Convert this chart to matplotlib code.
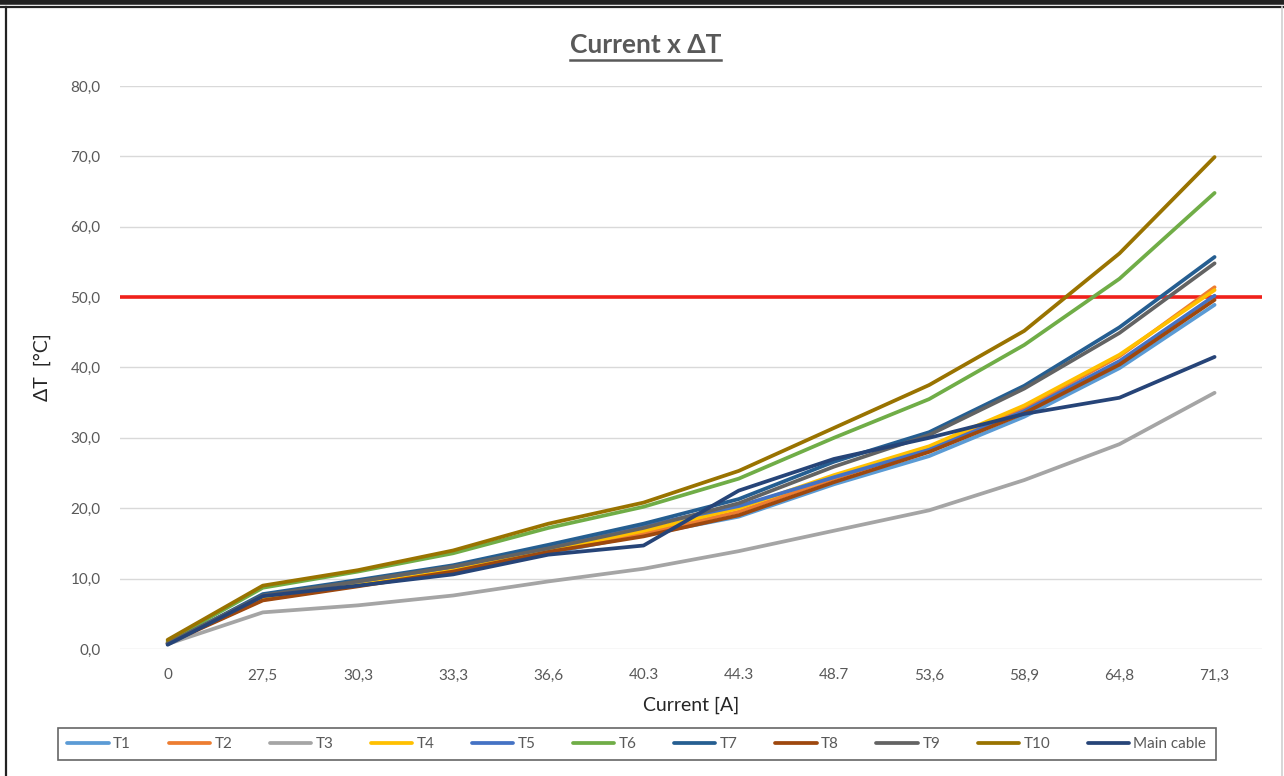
import matplotlib
matplotlib.use("Agg")
import matplotlib.pyplot as plt
from matplotlib.lines import Line2D

plt.rcParams['font.family'] = ['Lato', 'DejaVu Sans']

# current steps (category axis)
currents = ["0", "27,5", "30,3", "33,3", "36,6", "40.3", "44.3", "48.7", "53,6", "58,9", "64,8", "71,3"]

# temperature rise per sensor [°C]
t1 = [0.8, 7.2, 9.2, 10.8, 13.6, 16.2, 18.8, 23.4, 27.4, 33.0, 39.9, 48.9]
t2 = [0.9, 7.0, 9.0, 11.0, 14.0, 16.4, 19.5, 24.2, 28.6, 34.2, 41.6, 51.4]
t3 = [0.7, 5.2, 6.2, 7.6, 9.6, 11.4, 13.9, 16.8, 19.7, 24.0, 29.1, 36.4]
t4 = [0.9, 7.3, 9.4, 11.3, 14.0, 16.8, 20.0, 24.7, 28.8, 34.6, 41.8, 51.0]
t5 = [0.8, 7.6, 9.6, 11.7, 14.6, 17.5, 20.3, 24.4, 28.3, 33.8, 40.9, 50.2]
t6 = [1.1, 8.7, 11.0, 13.6, 17.2, 20.2, 24.2, 30.0, 35.5, 43.2, 52.6, 64.8]
t7 = [0.7, 7.8, 9.8, 11.9, 14.8, 17.8, 21.3, 26.6, 30.8, 37.4, 45.7, 55.7]
t8 = [0.8, 6.9, 8.9, 11.0, 13.8, 16.0, 19.0, 23.7, 28.0, 33.5, 40.4, 49.6]
t9 = [0.8, 7.6, 9.6, 11.7, 14.3, 17.2, 20.7, 25.9, 30.4, 37.0, 44.9, 54.8]
t10 = [1.3, 9.0, 11.2, 14.0, 17.8, 20.8, 25.3, 31.4, 37.5, 45.2, 56.2, 69.9]
main_cable = [0.6, 7.5, 9.0, 10.6, 13.4, 14.7, 22.5, 27.0, 30.0, 33.4, 35.7, 41.5]

limit = 50.0

series = [("T1", t1, "#5B9BD5"), ("T2", t2, "#ED7D31"), ("T3", t3, "#A5A5A5"),
          ("T4", t4, "#FFC000"), ("T5", t5, "#4472C4"), ("T6", t6, "#70AD47"),
          ("T7", t7, "#255E91"), ("T8", t8, "#9E480E"), ("T9", t9, "#636363"),
          ("T10", t10, "#997300"), ("Main cable", main_cable, "#264478")]

fig = plt.figure(figsize=(12.84, 7.76), dpi=100)
ax = fig.add_axes([0.0935, 0.1637, 0.8895, 0.7255])

x = list(range(len(currents)))
for name, vals, col in series:
    ax.plot(x, vals, color=col, lw=2.7, label=name, solid_capstyle='round')

ax.axhline(limit, color="#F0201A", lw=2.6, zorder=1)

ax.set_xlim(-0.5, len(currents) - 0.5)
ax.set_ylim(0, 80)
ax.set_yticks(range(0, 81, 10))
ax.set_yticklabels([f"{v},0" for v in range(0, 81, 10)])
ax.set_xticks(x)
ax.set_xticklabels(currents)
ax.tick_params(length=0, labelsize=11, labelcolor="#595959", pad=14)
ax.tick_params(axis='y', pad=14)
ax.grid(axis='y', color="#D9D9D9", lw=1)
ax.set_axisbelow(True)
for s in ax.spines.values():
    s.set_visible(False)

ax.set_xlabel("Current [A]", fontsize=14, color="#262626", labelpad=10)
ax.set_ylabel("ΔT  [°C]", fontsize=14, color="#262626", labelpad=14)

# underlined title
title = fig.text(0.5025, 0.942, "Current x ΔT", ha='center', va='center',
                 fontsize=19, fontweight='bold', color="#595959")
r = fig.canvas.get_renderer()
bb = title.get_window_extent(renderer=r).transformed(fig.transFigure.inverted())
fig.add_artist(Line2D([bb.x0, bb.x1], [bb.y0 - 0.004, bb.y0 - 0.004],
                      color="#595959", lw=1.8, transform=fig.transFigure))

leg = fig.legend(loc='center', bbox_to_anchor=(0.496, 0.041), ncol=11,
                 fontsize=11, frameon=True, fancybox=False, handlelength=2.7,
                 columnspacing=2.45, handletextpad=0.3, borderpad=0.6)
leg.get_frame().set_edgecolor("#404040")
leg.get_frame().set_linewidth(1.2)
for t in leg.get_texts():
    t.set_color("#595959")

# outer frame lines
fig.add_artist(Line2D([0, 1], [0.998, 0.998], color="#222222", lw=4, transform=fig.transFigure))
fig.add_artist(Line2D([0, 1], [0.9915, 0.9915], color="#222222", lw=1.6, transform=fig.transFigure))
fig.add_artist(Line2D([0.0047, 0.0047], [0, 0.9915], color="#222222", lw=1.6, transform=fig.transFigure))
fig.add_artist(Line2D([0.9985, 0.9985], [0, 0.9915], color="#D0D0D0", lw=1.2, transform=fig.transFigure))

fig.savefig("out.png", dpi=100)
